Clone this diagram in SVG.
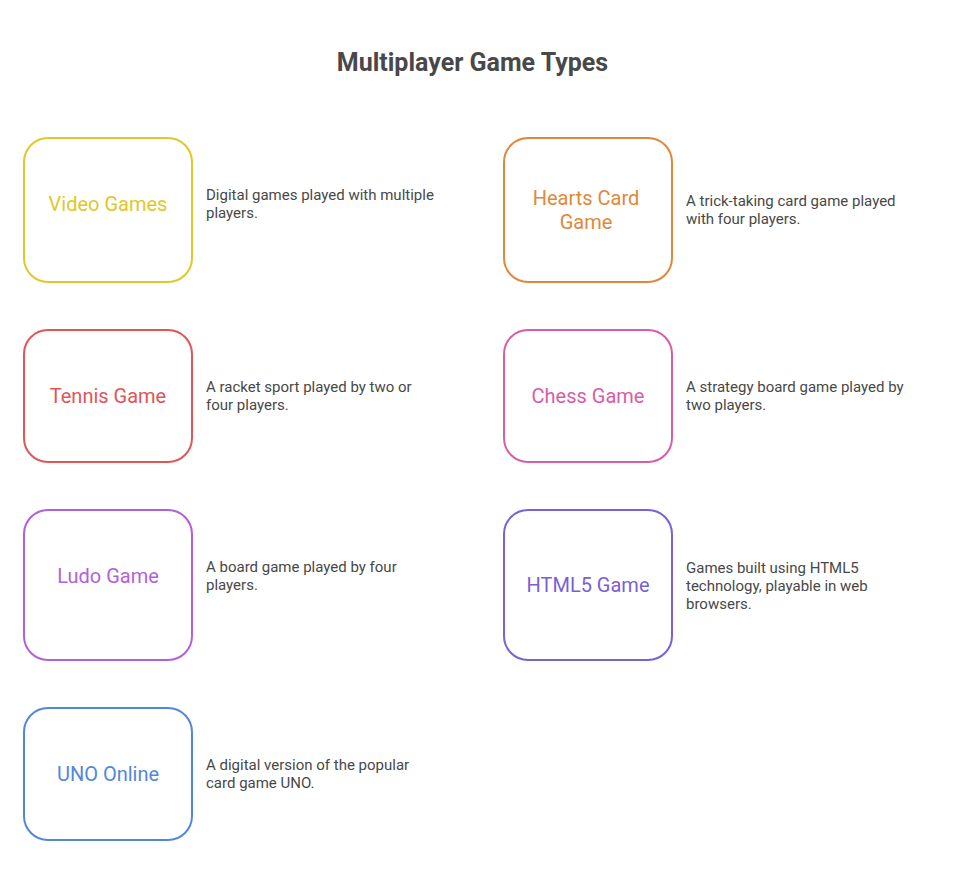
<svg xmlns="http://www.w3.org/2000/svg" width="960" height="888" viewBox="0 0 960 888">
<style>
.box{fill:#ffffff;stroke-width:2}
.lbl{font-family:Roboto,"Liberation Sans",sans-serif;font-size:20px;text-anchor:middle}
.desc{font-family:Roboto,"Liberation Sans",sans-serif;font-size:15px;fill:#484848}
.title{font-family:Roboto,"Liberation Sans",sans-serif;font-size:25px;font-weight:bold;fill:#484848;text-anchor:middle}
</style>
<rect width="960" height="888" fill="#ffffff"/>
<text class="title" x="472.5" y="70.5">Multiplayer Game Types</text>
<g id="connectors"></g>
<g id="video-games">
<rect class="box" x="24" y="138" width="168" height="144" rx="24" stroke="#E0C828"/>
<text class="lbl" x="108" y="211" fill="#E0C828">Video Games</text>
<text class="desc" x="206" y="200">Digital games played with multiple</text>
<text class="desc" x="206" y="218">players.</text>
</g>
<g id="hearts-card-game">
<rect class="box" x="504" y="138" width="168" height="144" rx="24" stroke="#E0883A"/>
<text class="lbl" x="586" y="205" fill="#E0883A">Hearts Card</text>
<text class="lbl" x="586" y="229" fill="#E0883A">Game</text>
<text class="desc" x="686" y="206">A trick-taking card game played</text>
<text class="desc" x="686" y="224">with four players.</text>
</g>
<g id="tennis-game">
<rect class="box" x="24" y="330" width="168" height="132" rx="24" stroke="#E05555"/>
<text class="lbl" x="108" y="402.5" fill="#E05555">Tennis Game</text>
<text class="desc" x="206" y="391.5">A racket sport played by two or</text>
<text class="desc" x="206" y="409.5">four players.</text>
</g>
<g id="chess-game">
<rect class="box" x="504" y="330" width="168" height="132" rx="24" stroke="#DA5CA6"/>
<text class="lbl" x="588" y="402.5" fill="#DA5CA6">Chess Game</text>
<text class="desc" x="686" y="391.5">A strategy board game played by</text>
<text class="desc" x="686" y="409.5">two players.</text>
</g>
<g id="ludo-game">
<rect class="box" x="24" y="510" width="168" height="150" rx="24" stroke="#B45FDA"/>
<text class="lbl" x="108" y="582.5" fill="#B45FDA">Ludo Game</text>
<text class="desc" x="206" y="572">A board game played by four</text>
<text class="desc" x="206" y="590">players.</text>
</g>
<g id="html5-game">
<rect class="box" x="504" y="510" width="168" height="150" rx="24" stroke="#7A60D6"/>
<text class="lbl" x="588" y="591.5" fill="#7A60D6">HTML5 Game</text>
<text class="desc" x="686" y="572.5">Games built using HTML5</text>
<text class="desc" x="686" y="590.5">technology, playable in web</text>
<text class="desc" x="686" y="608.5">browsers.</text>
</g>
<g id="uno-online">
<rect class="box" x="24" y="708" width="168" height="132" rx="24" stroke="#5386DD"/>
<text class="lbl" x="108" y="780.5" fill="#5386DD">UNO Online</text>
<text class="desc" x="206" y="770">A digital version of the popular</text>
<text class="desc" x="206" y="788">card game UNO.</text>
</g>
</svg>
